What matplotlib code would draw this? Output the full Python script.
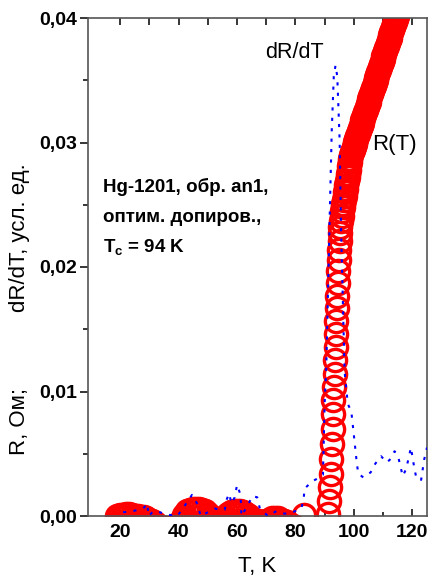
import matplotlib
matplotlib.use('Agg')
import matplotlib.pyplot as plt

plt.rcParams['font.family'] = ['Liberation Sans', 'DejaVu Sans']
plt.rcParams['mathtext.fontset'] = 'custom'
plt.rcParams['mathtext.rm'] = 'Liberation Sans'
plt.rcParams['mathtext.bf'] = 'Liberation Sans:bold'

# R(T): temperature (K) and resistance
T_low = [19, 20, 21, 22, 23, 24, 25, 26, 27, 28, 29, 30, 31, 32, 33, 34, 35, 36, 37, 38,
         39, 40, 41, 42, 43, 44, 45, 46, 47, 48, 49, 50, 51, 52, 53, 54, 55, 56, 57, 58,
         59, 60, 61, 62, 63, 64, 65, 66, 67, 68, 69, 70, 71, 72, 73, 74, 75, 76, 77, 78,
         79, 82.8]
R_low = [0.0000, 0.0001, 0.0001, 0.0002, 0.0002, 0.0001, 0.0000, 0.0000, -0.0001, -0.0001,
         -0.0002, -0.0003, -0.0004, -0.0006, -0.0008, -0.0009, -0.0010, -0.0010, -0.0010, -0.0010,
         -0.0009, -0.0006, -0.0003, 0.0001, 0.0004, 0.0005, 0.0006, 0.0006, 0.0006, 0.0005,
         0.0004, 0.0002, -0.0001, -0.0003, -0.0005, -0.0005, -0.0003, -0.0001, 0.0002, 0.0003,
         0.0004, 0.0004, 0.0004, 0.0003, 0.0002, 0.0000, -0.0003, -0.0004, -0.0004, -0.0005,
         -0.0005, -0.0004, -0.0003, -0.0002, -0.0002, -0.0002, -0.0003, -0.0004, -0.0005, -0.0007,
         -0.0008, 0.0001]

T_tr = [91.1, 91.4, 91.7, 92.0, 92.3, 92.5, 92.7, 92.8, 93.0, 93.2, 93.4, 93.6, 93.7, 93.9,
        94.0, 94.2, 94.3, 94.5, 94.6, 94.8, 94.9, 95.1, 95.3, 95.4, 95.6, 95.8, 96.0,
        96.2, 96.4, 96.6, 96.8, 97.0, 97.2, 97.4, 97.6, 97.8, 98.0, 98.2, 98.4, 98.6, 98.8, 99.0]
R_tr = [0.0002, 0.0012, 0.0023, 0.0034, 0.0046, 0.0058, 0.0070, 0.0082, 0.0093, 0.0104,
        0.0114, 0.0125, 0.0136, 0.0146, 0.0157, 0.0167, 0.0177, 0.0187, 0.0197, 0.0206,
        0.0214, 0.0221, 0.0227, 0.0232, 0.0237, 0.0241, 0.0245,
        0.0248, 0.0251, 0.0254, 0.0257, 0.0260, 0.0263, 0.0266, 0.0269, 0.0272, 0.0275,
        0.0278, 0.0281, 0.0284, 0.0287, 0.0290]

T_up = [99.3, 99.6, 99.9, 100.2, 100.5, 100.8, 101.1, 101.4, 101.7, 102.0,
        102.3, 102.6, 102.9, 103.2, 103.5, 103.8, 104.1, 104.4, 104.7, 105.0,
        105.3, 105.6, 105.9, 106.2, 106.5, 106.8, 107.1, 107.4, 107.7, 108.0,
        108.3, 108.6, 108.9, 109.2, 109.5, 109.8, 110.1, 110.4, 110.7, 111.0,
        111.3, 111.6, 111.9, 112.2, 112.5, 112.8, 113.1, 113.4, 113.7, 114.0,
        114.3, 114.6, 114.9, 115.2, 115.5, 115.8, 116.1, 116.4, 116.7, 117.0]
R_up = [0.02921, 0.02943, 0.02964, 0.02986, 0.03007, 0.03029, 0.03050, 0.03071, 0.03093, 0.03114,
        0.03136, 0.03157, 0.03178, 0.03200, 0.03221, 0.03243, 0.03264, 0.03286, 0.03307, 0.03328,
        0.03350, 0.03371, 0.03393, 0.03414, 0.03436, 0.03457, 0.03478, 0.03500, 0.03521, 0.03543,
        0.03564, 0.03585, 0.03607, 0.03628, 0.03650, 0.03671, 0.03693, 0.03714, 0.03735, 0.03757,
        0.03778, 0.03800, 0.03821, 0.03842, 0.03864, 0.03885, 0.03907, 0.03928, 0.03950, 0.03971,
        0.03992, 0.04014, 0.04035, 0.04057, 0.04078, 0.04100, 0.04121, 0.04142, 0.04164, 0.04185]

# dR/dT curve
T_d = [21.0, 24.5, 27.9, 29.3, 29.7, 31.5, 33.5, 36.5, 39.6, 42.3, 44.6, 46.6, 47.5, 50.0,
       52.4, 54.0, 55.8, 56.4, 57.3, 58.1, 59.2, 60.0, 61.2, 61.5, 63.5, 65.3, 66.9, 67.8,
       70.6, 73.5, 76.0, 78.0, 82.0, 82.8, 83.1, 85.8, 87.5, 89.4, 90.0, 90.5, 91.7, 92.4,
       93.1, 93.7, 94.3, 95.1, 95.6, 96.8, 97.9, 99.1, 100.2, 101.0, 101.5, 103.2, 105.7,
       107.3, 109.3, 111.2, 112.2, 113.9, 115.1, 116.7, 117.9, 119.5, 120.7, 121.4, 123.0,
       124.0, 125.0]
D_d = [0.0003, 0.0004, 0.0006, 0.0010, 0.0000, 0.0004, 0.0003, 0.0001, 0.0000, 0.0009,
       0.0017, 0.0009, 0.0000, 0.0003, 0.0006, 0.0005, 0.0005, 0.0013, 0.0018, 0.0010,
       0.0015, 0.0025, 0.0017, 0.0000, 0.0008, 0.0016, 0.0015, 0.0006, 0.0000, 0.0004,
       0.0002, 0.0002, 0.0006, 0.0014, 0.0022, 0.0028, 0.0030, 0.0033, 0.0092, 0.0116,
       0.0240, 0.0309, 0.0353, 0.0362, 0.0353, 0.0302, 0.0230, 0.0116, 0.0090, 0.0084,
       0.0060, 0.0042, 0.0034, 0.0031, 0.0035, 0.0042, 0.0048, 0.0043, 0.0045, 0.0052,
       0.0048, 0.0032, 0.0038, 0.0055, 0.0038, 0.0030, 0.0029, 0.0045, 0.0055]

y_ticks = [0.00, 0.01, 0.02, 0.03, 0.04]
y_labels = ['0,00', '0,01', '0,02', '0,03', '0,04']
x_ticks = [20, 40, 60, 80, 100, 120]

fig = plt.figure(figsize=(4.32, 5.77), dpi=100)
ax = fig.add_axes([88 / 432, 61 / 577, 339 / 432, 498 / 577])

T_R = T_low + T_tr + T_up
R_R = R_low + R_tr + R_up
ax.plot(T_R, R_R, 'o', mfc='none', mec='#ff0000', ms=16, mew=2.4, zorder=2)
ax.plot(T_d, D_d, color='#0000ff', lw=1.5, linestyle=(0, (1.5, 3.5)), zorder=3)

ax.set_xlim(9, 125)
ax.set_ylim(0, 0.04)

ax.set_yticks(y_ticks)
ax.set_yticklabels(y_labels, fontsize=14, fontweight='bold')
ax.set_yticks([0.005, 0.015, 0.025, 0.035], minor=True)
ax.set_xticks(x_ticks)
ax.set_xticklabels([str(v) for v in x_ticks], fontsize=14, fontweight='bold')
ax.set_xticks([30, 50, 70, 90, 110], minor=True)

ax.tick_params(axis='y', which='major', direction='out', length=6, width=1.1, pad=2)
ax.tick_params(axis='y', which='minor', direction='out', length=3.5, width=1.1)
ax.tick_params(axis='x', which='major', direction='in', length=5, width=1.1, pad=6)
ax.tick_params(axis='x', which='minor', direction='in', length=3, width=1.1)

top = ax.secondary_xaxis('top')
top.set_xticks([20, 30, 40, 50, 60, 70, 80, 90, 100, 110, 120])
top.set_xticklabels([])
top.tick_params(direction='in', length=5, width=1.1)
top.spines['top'].set_visible(False)

for s in ax.spines.values():
    s.set_color('#555555')
    s.set_linewidth(1.2)

ax.set_xlabel('T, K', fontsize=16, labelpad=10.5)
fig.text(20 / 432, 1 - 455 / 577, 'R, Ом;', rotation=90,
         fontsize=16, ha='center', va='bottom')
fig.text(20 / 432, 1 - 312 / 577, 'dR/dT, усл. ед.', rotation=90,
         fontsize=16, ha='center', va='bottom')

ax.text(79.7, 0.0372, 'dR/dT', fontsize=15.5, ha='center', va='center')
ax.text(113.9, 0.0298, 'R(T)', fontsize=16, ha='center', va='center')

x0 = (103 - 88) / 339
ax.text(x0, 1 - (192 - 18) / 498, 'Hg-1201, обр. an1,', transform=ax.transAxes,
        fontsize=13.5, fontweight='bold', va='baseline')
ax.text(x0, 1 - (222 - 18) / 498, 'оптим. допиров.,', transform=ax.transAxes,
        fontsize=13.5, fontweight='bold', va='baseline')
ax.text(x0, 1 - (252 - 18) / 498, r'$\mathbf{T_c}$ = 94 K', transform=ax.transAxes,
        fontsize=13.5, fontweight='bold', va='baseline')

fig.savefig('out.png', dpi=100)
